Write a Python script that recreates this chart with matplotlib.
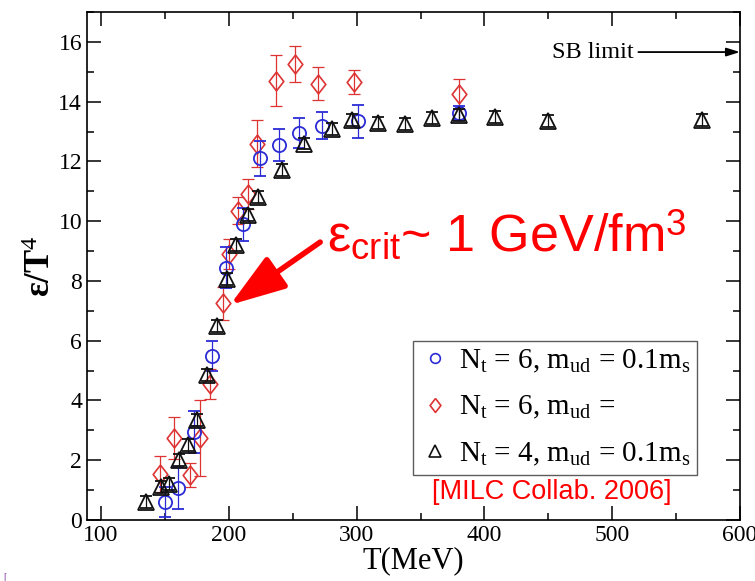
import matplotlib
matplotlib.use("Agg")
import matplotlib.pyplot as plt
from matplotlib.lines import Line2D
from matplotlib.ticker import MultipleLocator

plt.rcParams['font.family'] = ['Liberation Serif', 'DejaVu Serif']
plt.rcParams['mathtext.fontset'] = 'custom'
plt.rcParams['mathtext.rm'] = 'Liberation Serif'
plt.rcParams['mathtext.it'] = 'Liberation Serif:italic'
plt.rcParams['mathtext.sf'] = 'Liberation Sans'

# ---- data: Nt=6, m_ud = 0.1 m_s (blue circles)
T_a = [150, 160.5, 172.5, 186.6, 197.8, 211.4, 224.5, 239.4, 255, 273, 301, 380]
e_a = [0.6, 1.06, 2.95, 5.5, 8.45, 9.9, 12.1, 12.55, 12.95, 13.2, 13.35, 13.62]
err_a = [0.5, 0.7, 0.7, 0.5, 0.7, 0.55, 0.6, 0.55, 0.5, 0.45, 0.55, 0.25]

# ---- data: Nt=6, second mass (red diamonds)
T_b = [146, 157, 169.7, 177.5, 185.3, 195.3, 200.2, 207.2, 215, 222, 237, 252, 270, 298, 380]
e_b = [1.55, 2.75, 1.5, 2.74, 4.55, 7.25, 8.9, 10.35, 10.9, 12.6, 14.7, 15.25, 14.6, 14.65, 14.25]
err_b = [0.6, 0.7, 0.4, 1.27, 0.5, 0.55, 0.5, 0.45, 0.5, 0.8, 0.85, 0.6, 0.55, 0.4, 0.5]

# ---- data: Nt=4, m_ud = 0.1 m_s (black triangles)
T_c = [135, 147, 153, 161, 168, 175, 183, 191, 198.5, 206, 215, 223, 241.5, 258.5,
       281, 296.5, 317, 338, 359, 380, 408, 450, 570]
e_c = [0.6, 1.1, 1.2, 2.0, 2.5, 3.35, 4.85, 6.5, 8.06, 9.2, 10.2, 10.8, 11.7, 12.6,
       13.1, 13.4, 13.3, 13.25, 13.45, 13.55, 13.5, 13.35, 13.4]
err_c = [0.2] * len(T_c)

labels = [r"N$_\mathrm{t}$ = 6, m$_\mathrm{ud}$ = 0.1m$_\mathrm{s}$",
          r"N$_\mathrm{t}$ = 6, m$_\mathrm{ud}$ = ",
          r"N$_\mathrm{t}$ = 4, m$_\mathrm{ud}$ = 0.1m$_\mathrm{s}$"]
xticks = [100, 200, 300, 400, 500, 600]
yticks = [0, 2, 4, 6, 8, 10, 12, 14, 16]

blue = '#2b2bd6'
red = '#dd3333'
black = '#111111'
diamond = [(0, 1), (0.78, 0), (0, -1), (-0.78, 0), (0, 1)]

fig = plt.figure(figsize=(7.55, 5.81), dpi=100)
ax = fig.add_axes([0.1152, 0.105, 0.8649, 0.8743])

common = dict(linestyle='none', capsize=4.5, elinewidth=0.9, capthick=0.9,
              markerfacecolor='none', markeredgewidth=1.3)
ax.errorbar(T_c, e_c, yerr=err_c, fmt='^', color=black, ms=11, zorder=3, **common)
ax.errorbar(T_b, e_b, yerr=err_b, fmt='none', ecolor=red, capsize=4.5,
            elinewidth=0.9, capthick=0.9, zorder=2)
ax.plot(T_b, e_b, linestyle='none', marker=diamond, ms=13.5, mfc='none',
        mec=red, mew=1.2, zorder=2)
ax.errorbar(T_a, e_a, yerr=err_a, fmt='o', color=blue, ms=9.5, zorder=2, **common)

ax.set_xlim(89, 600)
ax.set_ylim(0, 17)
ax.set_xticks(xticks)
ax.set_yticks(yticks)
ax.xaxis.set_minor_locator(MultipleLocator(50))
ax.yaxis.set_minor_locator(MultipleLocator(1))
ax.tick_params(which='both', direction='in', top=True, right=True, labelsize=17, width=1.1)
ax.tick_params(which='major', length=10)
ax.tick_params(which='minor', length=5)
for s in ax.spines.values():
    s.set_linewidth(1.2)

ax.set_xlabel('T(MeV)', fontsize=22, labelpad=0)
ax.set_ylabel(r'ε/T$^\mathrm{4}$', fontsize=25, fontweight='bold', labelpad=0)

handles = [Line2D([], [], linestyle='none', marker='o', ms=7, mfc='none', mec=blue, mew=1.2),
           Line2D([], [], linestyle='none', marker=diamond, ms=10, mfc='none', mec=red, mew=1.2),
           Line2D([], [], linestyle='none', marker='^', ms=8, mfc='none', mec=black, mew=1.2)]
leg = ax.legend(handles, labels, loc='lower left', bbox_to_anchor=(0.499, 0.0886),
                fontsize=21, frameon=True, fancybox=False, edgecolor='#333333',
                handlelength=1.0, handletextpad=0.32, labelspacing=0.65, borderpad=0.25,
                borderaxespad=0)
leg.get_frame().set_linewidth(1.0)

ax.text(0.712, 0.055, '[MILC Collab. 2006]', transform=ax.transAxes, color='red',
        fontsize=19.5, family='Liberation Sans', ha='center', va='center')

# SB limit arrow
ax.annotate('', xy=(600, 15.66), xytext=(520.5, 15.66),
            arrowprops=dict(arrowstyle='-|>,head_length=0.8,head_width=0.25',
                            mutation_scale=10, color='black', lw=1.3,
                            shrinkA=0, shrinkB=0))
ax.text(517, 15.66, 'SB limit', fontsize=17.5, ha='right', va='center')

# epsilon crit annotation
ax.annotate('', xy=(201, 7.2), xytext=(271.5, 9.3),
            arrowprops=dict(arrowstyle='-|>,head_length=3.4,head_width=1.15',
                            mutation_scale=10, color='red', lw=4,
                            shrinkA=0, shrinkB=0))
ax.text(277, 8.97, r'ε$_\mathsf{crit}$~ 1 GeV/fm$^\mathsf{3}$', fontsize=37.5,
        color='red', family='Liberation Sans', ha='left', va='baseline')

fig.text(0.004, 0.002, '[', color='#7b2fa0', fontsize=7)

fig.savefig('out.png', dpi=100)
